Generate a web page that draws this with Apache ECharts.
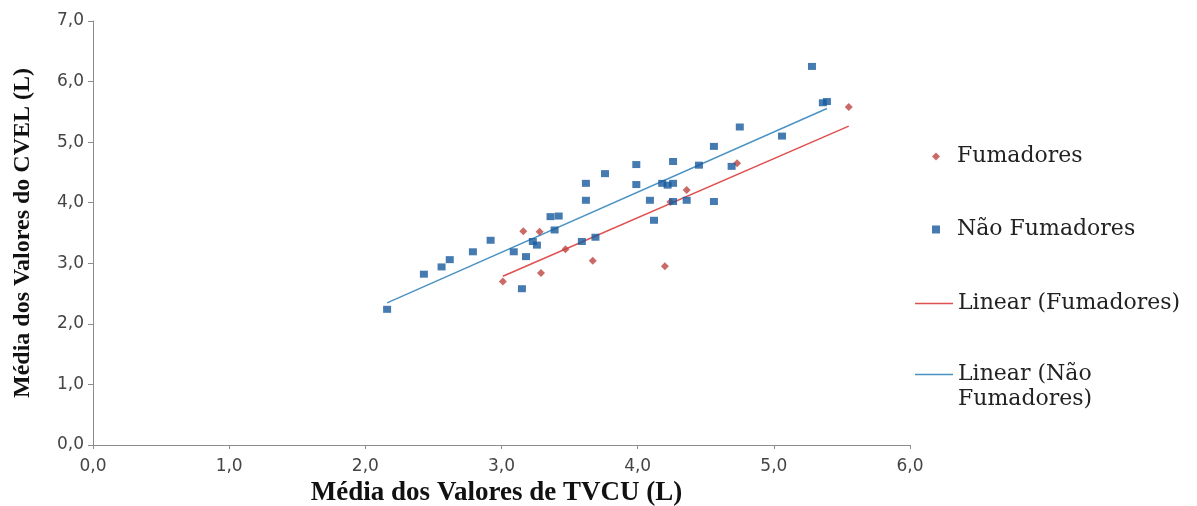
<!DOCTYPE html>
<html>
<head>
<meta charset="utf-8">
<script src="https://cdn.jsdelivr.net/npm/echarts@6/dist/echarts.min.js"></script>
<style>
html,body{margin:0;padding:0;background:#fff;}
#chart{width:1197px;height:506px;}
</style>
</head>
<body>
<div id="chart"></div>
<script>
// Data: [TVCU, CVEL]
const fumadores = [
  [3.01, 2.70], [3.16, 3.53], [3.28, 3.52], [3.29, 2.84], [3.47, 3.23],
  [3.67, 3.04], [4.20, 2.95], [4.24, 4.01], [4.36, 4.21], [4.73, 4.65],
  [5.55, 5.58]
];
const naoFumadores = [
  [2.16, 2.24], [2.43, 2.82], [2.56, 2.94], [2.62, 3.06], [2.79, 3.19],
  [2.92, 3.38], [3.09, 3.19], [3.15, 2.58], [3.18, 3.11], [3.23, 3.36],
  [3.26, 3.30], [3.36, 3.77], [3.42, 3.78], [3.39, 3.55], [3.59, 3.36],
  [3.69, 3.43], [3.62, 4.04], [3.62, 4.32], [3.76, 4.48], [3.99, 4.63],
  [3.99, 4.30], [4.09, 4.04], [4.12, 3.71], [4.18, 4.32], [4.22, 4.29],
  [4.26, 4.32], [4.26, 4.68], [4.26, 4.02], [4.36, 4.04], [4.45, 4.62],
  [4.56, 4.93], [4.56, 4.02], [4.69, 4.60], [4.75, 5.25], [5.06, 5.10],
  [5.28, 6.25], [5.36, 5.65], [5.39, 5.67]
];
const seriesNames = ['Fumadores', 'Não Fumadores', 'Linear (Fumadores)', 'Linear (Não Fumadores)'];
const xTitle = 'Média dos Valores de TVCU (L)';
const yTitle = 'Média dos Valores do CVEL (L)';

// least-squares trendline over the data's x range
function trend(pts) {
  const n = pts.length;
  let sx = 0, sy = 0, sxx = 0, sxy = 0;
  pts.forEach(p => { sx += p[0]; sy += p[1]; sxx += p[0] * p[0]; sxy += p[0] * p[1]; });
  const b = (n * sxy - sx * sy) / (n * sxx - sx * sx);
  const a = (sy - b * sx) / n;
  const xs = pts.map(p => p[0]);
  const x0 = Math.min.apply(null, xs), x1 = Math.max.apply(null, xs);
  return [[x0, a + b * x0], [x1, a + b * x1]];
}

const fmt = v => v.toFixed(1).replace('.', ',');
const serif = '"Liberation Serif", "Times New Roman", serif';
const legendFont = '"DejaVu Serif", "Liberation Serif", serif';
const sans = '"DejaVu Sans", Verdana, sans-serif';
const RED = '#bd4541', BLUE = '#175a9c', RED_LINE = '#e0504f', BLUE_LINE = '#4a93c4';

const chart = echarts.init(document.getElementById('chart'), null, {renderer: 'canvas'});
chart.setOption({
  animation: false,
  backgroundColor: '#ffffff',
  grid: {left: 93, right: 287, top: 21, bottom: 61, containLabel: false, outerBoundsMode: 'none'},
  xAxis: {
    type: 'value', min: 0, max: 6, interval: 1,
    name: xTitle, nameLocation: 'middle', nameGap: 34,
    nameTextStyle: {fontFamily: serif, fontWeight: 'bold', fontSize: 27, color: '#111', padding: [0, 10, 0, 0]},
    axisLine: {show: true, lineStyle: {color: '#8c8c8c', width: 1}},
    axisTick: {show: true, length: 4, inside: false, lineStyle: {color: '#8c8c8c'}},
    axisLabel: {formatter: fmt, fontFamily: sans, fontSize: 17, color: '#444', margin: 13},
    splitLine: {show: false}
  },
  yAxis: {
    type: 'value', min: 0, max: 7, interval: 1,
    name: yTitle, nameLocation: 'middle', nameGap: 58,
    nameTextStyle: {fontFamily: serif, fontWeight: 'bold', fontSize: 24, color: '#111'},
    axisLine: {show: true, lineStyle: {color: '#8c8c8c', width: 1}},
    axisTick: {show: true, length: 5, lineStyle: {color: '#8c8c8c'}},
    axisLabel: {formatter: fmt, fontFamily: sans, fontSize: 17, color: '#444', margin: 9},
    splitLine: {show: false}
  },
  legend: [
    {
      orient: 'vertical', left: 927, top: 139, itemWidth: 8, itemHeight: 8, itemGap: 48,
      data: [seriesNames[0], seriesNames[1]],
      textStyle: {fontFamily: legendFont, fontSize: 22, color: '#222', lineHeight: 25, padding: [0, 0, 0, 12]}
    },
    {
      orient: 'vertical', left: 910, top: 286, itemWidth: 38, itemHeight: 1.5, itemGap: 21,
      data: [
        {name: seriesNames[2], icon: 'rect'},
        {name: seriesNames[3], icon: 'rect'}
      ],
      formatter: name => name === 'Linear (Não Fumadores)' ? '\nLinear (Não\nFumadores)' : name,
      textStyle: {fontFamily: legendFont, fontSize: 22, color: '#222', lineHeight: 25}
    }
  ],
  series: [
    {
      name: seriesNames[0], type: 'scatter', data: fumadores,
      symbol: 'diamond', symbolSize: 8,
      itemStyle: {color: RED}, z: 3
    },
    {
      name: seriesNames[1], type: 'scatter', data: naoFumadores,
      symbol: 'rect', symbolSize: [8, 7],
      itemStyle: {color: BLUE}, z: 3
    },
    {
      name: seriesNames[2], type: 'line', data: trend(fumadores),
      symbol: 'none', showSymbol: false,
      lineStyle: {color: RED_LINE, width: 1.5},
      itemStyle: {color: RED_LINE}, z: 2
    },
    {
      name: seriesNames[3], type: 'line', data: trend(naoFumadores),
      symbol: 'none', showSymbol: false,
      lineStyle: {color: BLUE_LINE, width: 1.5},
      itemStyle: {color: BLUE_LINE}, z: 2
    }
  ]
});
</script>
</body>
</html>
